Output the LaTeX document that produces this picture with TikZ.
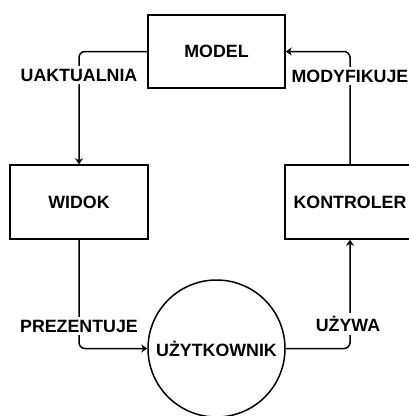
\documentclass[tikz,border=0pt]{standalone}
\usepackage{fontspec}
\setmainfont{Liberation Sans}
\usetikzlibrary{arrows.meta}
\begin{document}
\begin{tikzpicture}[x=1pt,y=-1pt,
  every node/.style={font=\fontsize{17.8}{20}\selectfont\bfseries},
  box/.style={draw, line width=1.5pt, inner sep=0pt},
  conn/.style={line width=1.5pt, rounded corners=6pt, -{Stealth[length=6pt,width=8pt,inset=2pt]}},
  lbl/.style={fill=white, inner sep=3pt}]
\useasboundingbox (0,0) rectangle (409,416);
\node[box, minimum width=137pt, minimum height=73pt] (model) at (216.5,51.5) {MODEL};
\node[box, minimum width=138pt, minimum height=74pt] (widok) at (79,202) {WIDOK};
\node[box, minimum width=130pt, minimum height=74pt] (kontroler) at (350,202) {KONTROLER};
\node[box, circle, minimum size=137pt] (user) at (216.5,348.5) {UŻYTKOWNIK};
\draw[conn] (model.west) -| (widok.north);
\draw[conn] (kontroler.north) |- (model.east);
\draw[conn] (widok.south) |- (user.west);
\draw[conn] (user.east) -| (kontroler.south);
\node[lbl] (l1) at (79,75) {UAKTUALNIA};
\node[lbl] (l2) at (350,76) {MODYFIKUJE};
\node[lbl] (l3) at (79,326) {PREZENTUJE};
\node[lbl] (l4) at (348,324) {UŻYWA};
\end{tikzpicture}
\end{document}
